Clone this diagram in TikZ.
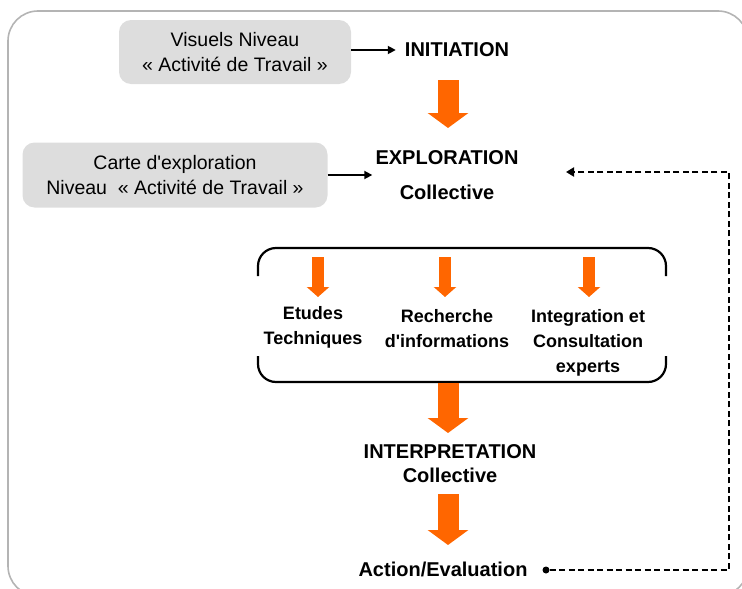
\documentclass[tikz,border=0pt]{standalone}
\usepackage{fontspec}
\setmainfont{Liberation Sans}
\usetikzlibrary{arrows.meta}
\definecolor{boxgray}{HTML}{DDDDDD}
\definecolor{framegray}{HTML}{B4B4B4}
\definecolor{orng}{HTML}{FF6600}
\tikzset{
  graybox/.style={draw=none, fill=boxgray, rounded corners=12pt, align=center,
    font=\fontsize{19.5}{24.5}\selectfont, inner sep=0pt},
  mainlabel/.style={align=center, font=\fontsize{20}{24}\selectfont\bfseries, inner sep=3pt},
  sublabel/.style={align=center, font=\fontsize{18}{25}\selectfont\bfseries, inner sep=2pt},
  bigarrow/.style={draw=orng, line width=21pt, -{Triangle[width=40pt,length=15pt]}},
  smallarrow/.style={draw=orng, line width=12pt, -{Triangle[width=22pt,length=10pt]}},
  thinarrow/.style={draw=black, line width=1.8pt, -{Triangle[width=8pt,length=8pt]}},
  dasharrow/.style={draw=black, line width=2.2pt, dash pattern=on 6pt off 3.5pt, -{Triangle[width=9pt,length=8pt]}},
  bracketline/.style={draw=black, line width=2.2pt, rounded corners=18pt},
}
\begin{document}
\begin{tikzpicture}[x=1pt,y=-1pt]
\useasboundingbox (0,0) rectangle (742,589);
% outer frame
\draw[framegray, line width=1.6pt, rounded corners=30pt] (8,11) rectangle (748,596);

% boxes
\node[graybox, minimum width=232pt, minimum height=64pt] (box1) at (235,52)
  {Visuels Niveau\\« Activité de Travail »};
\node[graybox, minimum width=305pt, minimum height=65pt] (box2) at (175,175)
  {Carte d\textquotesingle exploration\\Niveau\ \ « Activité de Travail »};

% main labels
\node[mainlabel] (init) at (457,50) {INITIATION};
\node[mainlabel, font=\fontsize{20}{35}\selectfont\bfseries] (expl) at (447,175) {EXPLORATION\\Collective};
\node[mainlabel] (interp) at (450,464) {INTERPRETATION\\Collective};
\node[mainlabel] (action) at (443,569) {Action/Evaluation};

% thin arrows
\draw[thinarrow, shorten >=6pt] (box1.east |- 0,50) -- (init.west);
\draw[thinarrow] (box2.east) -- (expl.west);

% bracket
\draw[bracketline] (258,276) -- (258,248) -- (666,248) -- (666,276);
\draw[bracketline] (258,356) -- (258,382) -- (666,382) -- (666,356);

% sub labels
\node[sublabel] (etudes) at (313,327) {Etudes\\Techniques};
\node[sublabel] (rech) at (447,329) {Recherche\\d\textquotesingle informations};
\node[sublabel] (integ) at (588,343) {Integration et\\Consultation\\experts};

% orange block arrows
\coordinate (a1s) at (448,80);  \coordinate (a1e) at (448,128);
\coordinate (a2s) at (448,383); \coordinate (a2e) at (448,433);
\coordinate (a3s) at (448,494); \coordinate (a3e) at (448,545);
\draw[bigarrow] (a1s) -- (a1e);
\draw[bigarrow] (a2s) -- (a2e);
\draw[bigarrow] (a3s) -- (a3e);

\coordinate (s1s) at (318,257); \coordinate (s1e) at (318,297);
\coordinate (s2s) at (445,257); \coordinate (s2e) at (445,297);
\coordinate (s3s) at (589,257); \coordinate (s3e) at (589,297);
\draw[smallarrow] (s1s) -- (s1e);
\draw[smallarrow] (s2s) -- (s2e);
\draw[smallarrow] (s3s) -- (s3e);

% feedback loop
\node[circle, fill=black, inner sep=0pt, minimum size=7pt] (dot) at (546,570) {};
\coordinate (corner) at (729,570);
\coordinate (loopend) at (566,172);
\draw[dasharrow] (dot) -- (corner) |- (loopend);
\end{tikzpicture}
\end{document}
